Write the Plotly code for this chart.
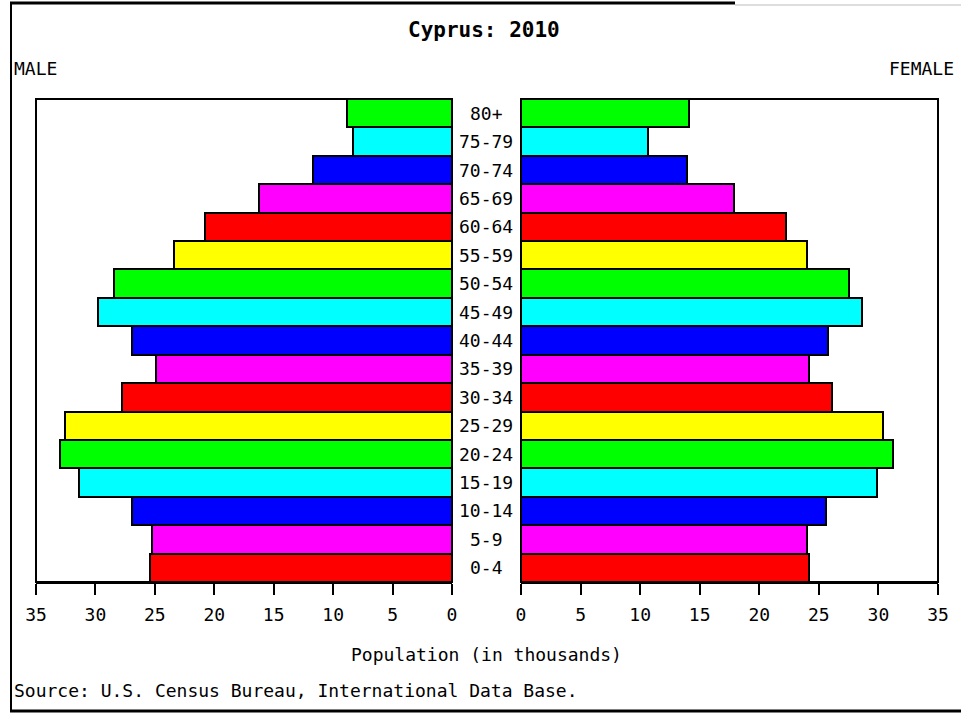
import plotly.graph_objects as go

age_groups = ["0-4", "5-9", "10-14", "15-19", "20-24", "25-29", "30-34", "35-39",
              "40-44", "45-49", "50-54", "55-59", "60-64", "65-69", "70-74", "75-79", "80+"]
male = [25.4, 25.2, 26.9, 31.4, 33.0, 32.6, 27.8, 24.9,
        26.9, 29.8, 28.4, 23.4, 20.8, 16.2, 11.7, 8.3, 8.8]
female = [24.2, 24.0, 25.6, 29.9, 31.2, 30.4, 26.1, 24.2,
          25.8, 28.6, 27.5, 24.0, 22.2, 17.9, 13.9, 10.7, 14.1]
tick_vals = [0, 5, 10, 15, 20, 25, 30, 35]
palette = ["#FF0000", "#FF00FF", "#0000FF", "#00FFFF", "#00FF00", "#FFFF00"]
bar_colors = [palette[i % 6] for i in range(len(age_groups))]

W, H = 961, 714
FONT = "DejaVu Sans Mono"

def px(x):
    return x / W

def py(y):
    return 1 - y / H

fig = go.Figure()
fig.add_trace(go.Bar(y=age_groups, x=male, orientation="h", xaxis="x", yaxis="y",
                     marker=dict(color=bar_colors, line=dict(color="black", width=2)),
                     showlegend=False))
fig.add_trace(go.Bar(y=age_groups, x=female, orientation="h", xaxis="x2", yaxis="y2",
                     marker=dict(color=bar_colors, line=dict(color="black", width=2)),
                     showlegend=False))

ydom = [py(582), py(99)]
axis_common = dict(range=[0, 35], tickvals=tick_vals, ticks="outside", ticklen=11, tickwidth=2,
                   tickcolor="black", showline=True, linecolor="black", linewidth=2,
                   showgrid=False, zeroline=False, fixedrange=True, automargin=False,
                   tickfont=dict(family=FONT, size=18, color="black"), ticklabelstandoff=4)
yaxis_common = dict(categoryorder="array", categoryarray=age_groups, range=[-0.5, 16.5],
                    showticklabels=False, ticks="", showgrid=False, zeroline=False,
                    showline=False, domain=ydom, automargin=False, fixedrange=True)

fig.update_layout(
    template="none", autosize=False,
    width=W, height=H, margin=dict(l=0, r=0, t=0, b=0, pad=0),
    paper_bgcolor="white", plot_bgcolor="white", bargap=0,
    xaxis=dict(axis_common, domain=[px(36), px(452)], autorange=False, range=[35, 0], anchor="y"),
    xaxis2=dict(axis_common, domain=[px(521), px(938)], anchor="y2"),
    yaxis=dict(yaxis_common, anchor="x"),
    yaxis2=dict(yaxis_common, anchor="x2"),
)

shapes = []
for xr, yr in (("x domain", "y domain"), ("x2 domain", "y2 domain")):
    shapes.append(dict(type="rect", xref=xr, yref=yr, x0=0, x1=1, y0=0, y1=1,
                       line=dict(color="black", width=2), fillcolor="rgba(0,0,0,0)", layer="above"))
shapes.append(dict(type="line", xref="paper", yref="paper", x0=px(11), x1=px(11), y0=py(3), y1=py(711),
                   line=dict(color="black", width=2)))
shapes.append(dict(type="line", xref="paper", yref="paper", x0=px(10), x1=px(735), y0=py(3), y1=py(3),
                   line=dict(color="black", width=3)))
shapes.append(dict(type="line", xref="paper", yref="paper", x0=px(735), x1=1, y0=py(5), y1=py(5),
                   line=dict(color="#BBBBBB", width=1)))
shapes.append(dict(type="line", xref="paper", yref="paper", x0=px(10), x1=1, y0=py(711), y1=py(711),
                   line=dict(color="black", width=3)))
fig.update_layout(shapes=shapes)

annotations = []
for ag in age_groups:
    annotations.append(dict(x=px(486), y=ag, xref="paper", yref="y", text=ag, showarrow=False,
                            xanchor="center", yanchor="middle",
                            font=dict(family=FONT, size=18, color="black")))
annotations += [
    dict(x=px(484), y=py(30), xref="paper", yref="paper", text="<b>Cyprus: 2010</b>", showarrow=False,
         xanchor="center", yanchor="middle", font=dict(family=FONT, size=21, color="black")),
    dict(x=px(12), y=py(68), xref="paper", yref="paper", text="MALE", showarrow=False,
         xanchor="left", yanchor="middle", font=dict(family=FONT, size=18, color="black")),
    dict(x=px(956), y=py(68), xref="paper", yref="paper", text="FEMALE", showarrow=False,
         xanchor="right", yanchor="middle", font=dict(family=FONT, size=18, color="black")),
    dict(x=px(486), y=py(654), xref="paper", yref="paper", text="Population (in thousands)", showarrow=False,
         xanchor="center", yanchor="middle", font=dict(family=FONT, size=18, color="black")),
    dict(x=px(12), y=py(690), xref="paper", yref="paper",
         text="Source: U.S. Census Bureau, International Data Base.", showarrow=False,
         xanchor="left", yanchor="middle", font=dict(family=FONT, size=18, color="black")),
]
fig.update_layout(annotations=annotations)

fig.write_html("out.html", config={"responsive": False, "displayModeBar": False},
               post_script="document.body.style.margin='0';document.body.style.overflow='hidden';")
